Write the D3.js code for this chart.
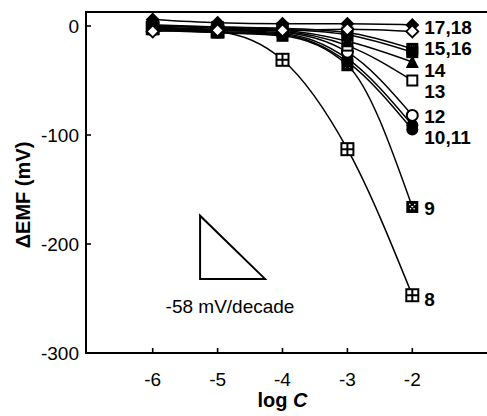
<!DOCTYPE html>
<html><head><meta charset="utf-8">
<script src="https://cdn.jsdelivr.net/npm/d3@7"></script>
<style>
html,body{margin:0;padding:0;background:#fff;}
svg text{font-family:"Liberation Sans",Arial,Helvetica,sans-serif;}
</style></head>
<body><svg id="c" width="487" height="416"></svg>
<script>
// ---- data ----
const logC = [-6, -5, -4, -3, -2];
const s8  = [-2, -5, -31, -113, -247];
const s9  = [-3, -6, -9, -36, -166];
const s10 = [-4, -6, -8, -33, -95];
const s11 = [-3, -5, -7, -30, -91];
const s12 = [-2, -4, -6, -24, -82];
const s13 = [-1, -3, -5, -18, -50];
const s14 = [0, -2, -4, -14, -33];
const s15 = [1, -1, -2, -6, -21];
const s16 = [0, -1, -3, -8, -24];
const s17 = [6, 3, 2, 2, 1];
const s18 = [-5, -4, -4, -3, -5];
const xTicks = [-6, -5, -4, -3, -2];
const yTicks = [0, -100, -200, -300];
const seriesNames = ["8","9","10","11","12","13","14","15","16","17","18"];
const markerTypes = ["sqPlus","sqFillX","circFill","circFill","circOpen","sqOpen","triFill","sqDot","sqFill","diaFill","diaOpen"];
const labelTexts = ["17,18","15,16","14","13","12","10,11","9","8"];
const labelValues = [-1, -20, -40, -59.7, -83, -102, -167, -250];

const series = [s8,s9,s10,s11,s12,s13,s14,s15,s16,s17,s18];

(function(){
const svg = d3.select("#c");
const x = d3.scaleLinear().domain([-6, -2]).range([152.7, 412.3]);
const y = d3.scaleLinear().domain([0, -300]).range([26, 353]);

const pL = 86, pT = 12, pB = 353, pR = 495;

// frame
svg.append("path")
  .attr("d", `M${pR},${pT}H${pL}V${pB}H${pR}`)
  .attr("fill","none").attr("stroke","#000").attr("stroke-width",2);

// ticks
svg.selectAll(".xt").data(xTicks).join("line")
  .attr("x1", d=>x(d)).attr("x2", d=>x(d))
  .attr("y1", pB).attr("y2", pB-5)
  .attr("stroke","#000").attr("stroke-width",1.6);
svg.selectAll(".yt").data(yTicks).join("line")
  .attr("x1", pL).attr("x2", pL+5)
  .attr("y1", d=>y(d)).attr("y2", d=>y(d))
  .attr("stroke","#000").attr("stroke-width",1.6);

svg.selectAll(".xl").data(xTicks).join("text")
  .attr("x", d=>x(d)).attr("y", 386)
  .attr("text-anchor","middle").attr("font-size",19)
  .text(d=>d);
svg.selectAll(".yl").data(yTicks).join("text")
  .attr("x", 79).attr("y", d=>y(d)+7)
  .attr("text-anchor","end").attr("font-size",19)
  .text(d=>d);

// axis titles
const xt = svg.append("text").attr("x", x(-4)).attr("y", 407)
  .attr("text-anchor","middle").attr("font-size",20).attr("font-weight","bold");
xt.append("tspan").text("log ");
xt.append("tspan").attr("font-style","italic").text("C");

svg.append("text")
  .attr("transform","translate(30,195) rotate(-90)")
  .attr("text-anchor","middle").attr("font-size",20).attr("font-weight","bold")
  .text("\u0394EMF (mV)");

// slope triangle: one decade, -58 mV
const tx0 = -5.27, ty0 = -232;
svg.append("path")
  .attr("d", `M${x(tx0)},${y(ty0+58)}L${x(tx0)},${y(ty0)}L${x(tx0+1)},${y(ty0)}Z`)
  .attr("fill","none").attr("stroke","#000").attr("stroke-width",2);
svg.append("text").attr("x", 230).attr("y", 313)
  .attr("text-anchor","middle").attr("font-size",19)
  .text("-58 mV/decade");

// lines
const line = d3.line().x((d,i)=>x(logC[i])).y(d=>y(d)).curve(d3.curveMonotoneX);
svg.selectAll(".ln").data(series).join("path")
  .attr("d", d=>line(d)).attr("fill","none")
  .attr("stroke","#000").attr("stroke-width",1.5);

// markers
function drawMarker(g, type) {
  const s = 6;
  switch(type) {
    case "sqPlus":
      g.append("rect").attr("x",-s).attr("y",-s).attr("width",2*s).attr("height",2*s)
        .attr("fill","#fff").attr("stroke","#000").attr("stroke-width",2);
      g.append("path").attr("d",`M${-s},0H${s}M0,${-s}V${s}`).attr("stroke","#000").attr("stroke-width",2);
      break;
    case "sqFillX":
      g.append("rect").attr("x",-s).attr("y",-s).attr("width",2*s).attr("height",2*s).attr("fill","#000");
      g.append("path").attr("d","M-3,-3L3,3M3,-3L-3,3").attr("stroke","#fff").attr("stroke-width",1.2).attr("stroke-dasharray","1.5,1.5");
      break;
    case "circFill":
      g.append("circle").attr("r",s).attr("fill","#000");
      break;
    case "circOpen":
      g.append("circle").attr("r",s-0.5).attr("fill","#fff").attr("stroke","#000").attr("stroke-width",2);
      break;
    case "sqOpen":
      g.append("rect").attr("x",-s+1).attr("y",-s+1).attr("width",2*s-2).attr("height",2*s-2)
        .attr("fill","#fff").attr("stroke","#000").attr("stroke-width",2);
      break;
    case "triFill":
      g.append("path").attr("d",`M0,${-s-1}L${s+0.5},${s}L${-s-0.5},${s}Z`).attr("fill","#000");
      break;
    case "sqDot":
      g.append("rect").attr("x",-s).attr("y",-s).attr("width",2*s).attr("height",2*s).attr("fill","#000");
      g.append("rect").attr("x",-2.5).attr("y",-2.5).attr("width",5).attr("height",5).attr("fill","none")
        .attr("stroke","#fff").attr("stroke-width",1).attr("stroke-dasharray","1,1");
      break;
    case "sqFill":
      g.append("rect").attr("x",-s).attr("y",-s).attr("width",2*s).attr("height",2*s).attr("fill","#000");
      break;
    case "diaFill":
      g.append("path").attr("d",`M0,${-s-1}L${s+1},0L0,${s+1}L${-s-1},0Z`).attr("fill","#000");
      break;
    case "diaOpen":
      g.append("path").attr("d",`M0,${-s}L${s},0L0,${s}L${-s},0Z`).attr("fill","#fff").attr("stroke","#000").attr("stroke-width",1.8);
      break;
  }
}
series.forEach((sv, si) => {
  sv.forEach((v, i) => {
    const g = svg.append("g").attr("transform", `translate(${x(logC[i])},${y(v)})`);
    drawMarker(g, markerTypes[si]);
  });
});

// series labels
svg.selectAll(".sl").data(labelTexts).join("text")
  .attr("x", x(-2) + 12)
  .attr("y", (d,i)=>y(labelValues[i]) + 7)
  .attr("font-size",19).attr("font-weight","bold")
  .text(d=>d);
})();
</script></body></html>
